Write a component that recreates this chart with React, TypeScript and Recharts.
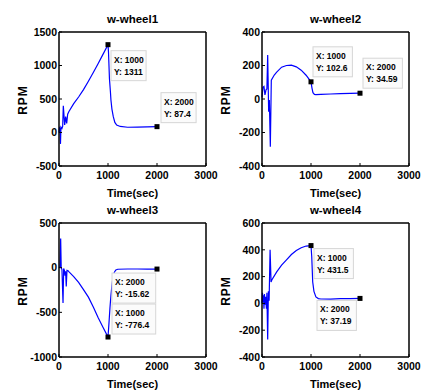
import React from 'react';
import { LineChart, Line, XAxis, YAxis, ReferenceDot } from 'recharts';

const FONT = '"Liberation Sans", Arial, Helvetica, sans-serif';
const TIME_TICKS = [0, 1000, 2000, 3000];

// w-wheel1
const W1_T = [0, 10, 20, 30, 40, 60, 75, 88, 116, 136, 157, 177, 200, 300, 400, 500, 600, 700, 800, 900, 1000, 1010, 1030, 1050, 1060, 1080, 1108, 1140, 1177, 1250, 1400, 1600, 1800, 2000];
const W1_RPM = [0, 70, 60, -170, 80, 60, 90, 400, 112, 236, 137, 272, 310, 430, 530, 640, 765, 895, 1030, 1170, 1311, 1200, 800, 600, 485, 350, 236, 150, 112, 90, 78, 80, 85, 87.4];
const W1_TIP_X = [1000, 2000];
const W1_TIP_Y = [1311, 87.4];

// w-wheel2
const W2_T = [0, 20, 40, 60, 82, 100, 116, 136, 150, 170, 190, 250, 300, 400, 500, 600, 700, 800, 900, 1000, 1020, 1040, 1070, 1100, 1200, 1400, 1600, 1800, 2000];
const W2_RPM = [10, 70, 75, 25, 55, 60, 263, -76, -6, -285, 113, 143, 160, 190, 200, 202, 192, 172, 142, 102.6, 65, 38, 27, 26, 28, 30, 32, 33, 34.59];
const W2_TIP_X = [1000, 2000];
const W2_TIP_Y = [102.6, 34.59];

// w-wheel3
const W3_T = [0, 20, 34, 45, 60, 82, 95, 110, 122, 135, 148, 163, 185, 200, 300, 400, 500, 600, 700, 800, 900, 1000, 1020, 1040, 1060, 1080, 1100, 1130, 1160, 1200, 1400, 1600, 1800, 2000];
const W3_RPM = [0, 10, 327, 0, -20, -394, -10, -30, -90, -40, -210, -30, -35, -45, -100, -165, -245, -330, -440, -560, -670, -776.4, -620, -450, -310, -200, -110, -50, -25, -18, -15, -15, -15.5, -15.62];
const W3_TIP_X = [1000, 2000];
const W3_TIP_Y = [-776.4, -15.62];

// w-wheel4
const W4_T = [0, 10, 20, 30, 40, 50, 60, 75, 90, 100, 116, 130, 145, 165, 185, 200, 300, 400, 500, 600, 700, 800, 900, 1000, 1015, 1035, 1060, 1100, 1150, 1200, 1400, 1600, 1800, 2000];
const W4_RPM = [0, 80, 10, 60, -40, 70, -10, 50, -40, 80, -270, 90, 20, 400, 160, 175, 235, 285, 325, 365, 395, 415, 428, 431.5, 350, 160, 90, 48, 36, 33, 32, 35, 36, 37.19];
const W4_TIP_X = [1000, 2000];
const W4_TIP_Y = [431.5, 37.19];

const rows = (t: number[], v: number[]) => t.map((x, i) => ({ t: x, rpm: v[i] }));

type Panel = {
  title: string;
  data: { t: number; rpm: number }[];
  domain: [number, number];
  ticks: number[];
  tipX: number[];
  tipY: number[];
  tipOffset: [number, number][];
  left: number;
  top: number;
};

const PANELS: Panel[] = [
  {
    title: 'w-wheel1', data: rows(W1_T, W1_RPM), domain: [-500, 1500], ticks: [-500, 0, 500, 1000, 1500],
    tipX: W1_TIP_X, tipY: W1_TIP_Y, tipOffset: [[3, 6], [4, -34]], left: 0, top: 0,
  },
  {
    title: 'w-wheel2', data: rows(W2_T, W2_RPM), domain: [-400, 400], ticks: [-400, -200, 0, 200, 400],
    tipX: W2_TIP_X, tipY: W2_TIP_Y, tipOffset: [[2, -35], [3, -35]], left: 203, top: 0,
  },
  {
    title: 'w-wheel3', data: rows(W3_T, W3_RPM), domain: [-1000, 500], ticks: [-1000, -500, 0, 500],
    tipX: W3_TIP_X, tipY: W3_TIP_Y, tipOffset: [[4, -33], [-45, 4]], left: 0, top: 191,
  },
  {
    title: 'w-wheel4', data: rows(W4_T, W4_RPM), domain: [-400, 600], ticks: [-400, -200, 0, 200, 400, 600],
    tipX: W4_TIP_X, tipY: W4_TIP_Y, tipOffset: [[3, 3], [-43, 2]], left: 203, top: 191,
  },
];

const axisLine = { stroke: '#000', strokeWidth: 1.5 };
const tickStyle = { fill: '#000', fontSize: 10.5, fontWeight: 'bold', fontFamily: FONT };

function DataTip(props: any) {
  const { cx, cy, tx, ty, dx, dy } = props;
  if (cx == null || cy == null) return null;
  const l1 = `X: ${tx}`;
  const l2 = `Y: ${ty}`;
  const w = Math.max(l1.length, l2.length) * 4.3 + 5;
  const bx = cx + dx;
  const by = cy + dy;
  return (
    <g>
      <rect x={cx - 2.5} y={cy - 2.5} width={5} height={5} fill="#000" />
      <rect x={bx} y={by} width={w} height={30} fill="#fbfbfb" stroke="#d6d6d6" strokeWidth={1} />
      <text x={bx + 3} y={by + 12} fontSize={8.5} fontWeight="bold" fontFamily={FONT} fill="#000">{l1}</text>
      <text x={bx + 3} y={by + 24} fontSize={8.5} fontWeight="bold" fontFamily={FONT} fill="#000">{l2}</text>
    </g>
  );
}

function Subplot({ p }: { p: Panel }) {
  return (
    <div style={{ position: 'absolute', left: p.left, top: p.top }}>
      <LineChart width={225} height={200} data={p.data} margin={{ top: 31, right: 18, bottom: 10, left: 9 }}>
        <XAxis
          dataKey="t" type="number" domain={[0, 3000]} ticks={TIME_TICKS} interval={0}
          height={24} axisLine={axisLine} tickLine={{ stroke: '#000' }} tickSize={-3} tickMargin={9}
          tick={tickStyle}
          label={(lp: any) => {
            const vb = lp.viewBox;
            return (
              <text x={vb.x + vb.width / 2} y={vb.y + 31} textAnchor="middle" fontSize={11} fontWeight="bold" fontFamily={FONT} fill="#000">
                Time(sec)
              </text>
            );
          }}
        />
        <XAxis
          xAxisId="top" orientation="top" type="number" domain={[0, 3000]} ticks={TIME_TICKS} interval={0}
          height={1} axisLine={axisLine} tickLine={{ stroke: '#000' }} tickSize={-3} tick={false}
          label={(lp: any) => {
            const vb = lp.viewBox;
            return (
              <text x={vb.x + vb.width / 2} y={vb.y + vb.height - 9} textAnchor="middle" fontSize={11.5} fontWeight="bold" fontFamily={FONT} fill="#000">
                {p.title}
              </text>
            );
          }}
        />
        <YAxis
          type="number" domain={p.domain} ticks={p.ticks} interval={0} width={50}
          axisLine={axisLine} tickLine={{ stroke: '#000' }} tickSize={-3} tickMargin={5}
          tick={tickStyle}
          label={(lp: any) => {
            const vb = lp.viewBox;
            const cx = vb.x + 14;
            const cy = vb.y + vb.height / 2 + 1;
            return (
              <text x={cx} y={cy} dy="0.35em" transform={`rotate(-90 ${cx} ${cy})`} textAnchor="middle" fontSize={12} letterSpacing={1} fontWeight="bold" fontFamily={FONT} fill="#000">
                RPM
              </text>
            );
          }}
        />
        <YAxis
          yAxisId="right" orientation="right" type="number" domain={p.domain} ticks={p.ticks} interval={0} width={1}
          axisLine={axisLine} tickLine={{ stroke: '#000' }} tickSize={-3} tick={false}
        />
        <Line type="linear" dataKey="rpm" stroke="#0000ff" strokeWidth={1.2} dot={false} isAnimationActive={false} />
        {p.tipX.map((x, i) => (
          <ReferenceDot
            key={i} x={x} y={p.tipY[i]} r={3}
            shape={(sp: any) => (
              <DataTip {...sp} tx={x} ty={p.tipY[i]} dx={p.tipOffset[i][0]} dy={p.tipOffset[i][1]} />
            )}
          />
        ))}
      </LineChart>
    </div>
  );
}

export default function App() {
  return (
    <div style={{ position: 'absolute', left: 0, top: 0, width: 422, height: 390, background: '#fff', overflow: 'hidden' }}>
      {PANELS.map((p) => (
        <Subplot key={p.title} p={p} />
      ))}
    </div>
  );
}
